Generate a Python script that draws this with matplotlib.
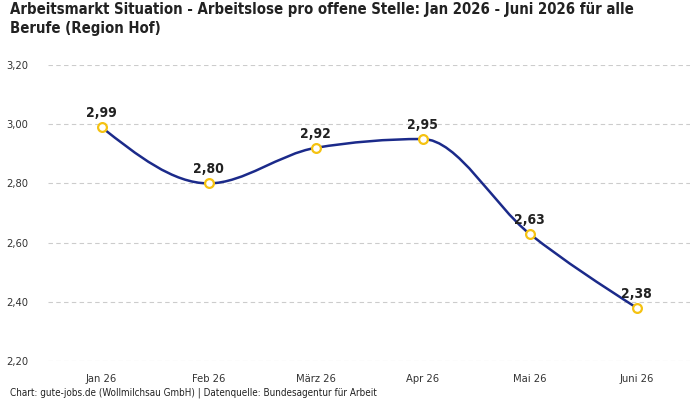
import numpy as np
import matplotlib.pyplot as plt
from matplotlib.path import Path
from matplotlib.patches import PathPatch

plt.rcParams['font.family'] = ['DejaVu Sans']
plt.rcParams['font.stretch'] = 'condensed'

months = ['Jan 26', 'Feb 26', 'März 26', 'Apr 26', 'Mai 26', 'Juni 26']
values = [2.99, 2.80, 2.92, 2.95, 2.63, 2.38]
y_ticks = [2.2, 2.4, 2.6, 2.8, 3.0, 3.2]


def monotone_path(x, y):
    # monotone cubic (wie d3 curveMonotoneX) als Bezier-Pfad
    x = np.asarray(x, float)
    y = np.asarray(y, float)
    n = len(x)
    h = np.diff(x)
    s = np.diff(y) / h
    t = np.zeros(n)
    for i in range(1, n - 1):
        p = (s[i - 1] * h[i] + s[i] * h[i - 1]) / (h[i - 1] + h[i])
        t[i] = (np.sign(s[i - 1]) + np.sign(s[i])) * min(abs(s[i - 1]), abs(s[i]), 0.5 * abs(p))
    t[0] = (3 * s[0] - t[1]) / 2
    t[-1] = (3 * s[-1] - t[-2]) / 2
    verts = [(x[0], y[0])]
    codes = [Path.MOVETO]
    for i in range(n - 1):
        dx = h[i] / 3
        verts += [(x[i] + dx, y[i] + dx * t[i]), (x[i + 1] - dx, y[i + 1] - dx * t[i + 1]), (x[i + 1], y[i + 1])]
        codes += [Path.CURVE4] * 3
    return Path(verts, codes)


fig = plt.figure(figsize=(7, 4), dpi=100)
ax = fig.add_axes([48 / 700, 1 - 361 / 400, 642 / 700, 296 / 400])

xs = np.arange(len(months))
ax.add_patch(PathPatch(monotone_path(xs, values), fill=False, edgecolor='#1b2a8a', lw=1.8, zorder=3))
ax.scatter(xs, values, s=40, facecolor='white', edgecolor='#f5c211', linewidth=1.6, zorder=4)
for x, v in zip(xs, values):
    ax.annotate(f'{v:.2f}'.replace('.', ','), (x, v), xytext=(0, 5), textcoords='offset points',
                ha='center', va='bottom', fontsize=10, color='#222222', fontweight='bold')

ax.set_xlim(-0.5, 5.5)
ax.set_ylim(2.2, 3.2)
ax.set_xticks(xs)
ax.set_xticklabels(months)
ax.set_yticks(y_ticks)
ax.set_yticklabels([f'{v:.2f}'.replace('.', ',') for v in y_ticks])
ax.tick_params(length=0, labelsize=8, colors='#333333')
ax.tick_params(axis='x', pad=9)
ax.tick_params(axis='y', pad=14)
ax.grid(axis='y', color='#cccccc', linestyle=(0, (4, 3)), linewidth=0.8)
for sp in ax.spines.values():
    sp.set_visible(False)

fig.text(10 / 700, 1 - 2 / 400, 'Arbeitsmarkt Situation - Arbeitslose pro offene Stelle: Jan 2026 - Juni 2026 für alle\nBerufe (Region Hof)',
         ha='left', va='top', fontsize=10.7, fontweight='bold', color='#222222', linespacing=1.35)
fig.text(10 / 700, 1 - 393 / 400, 'Chart: gute-jobs.de (Wollmilchsau GmbH) | Datenquelle: Bundesagentur für Arbeit',
         ha='left', va='center', fontsize=7.1, color='#222222')

fig.savefig('out.png', dpi=100)
